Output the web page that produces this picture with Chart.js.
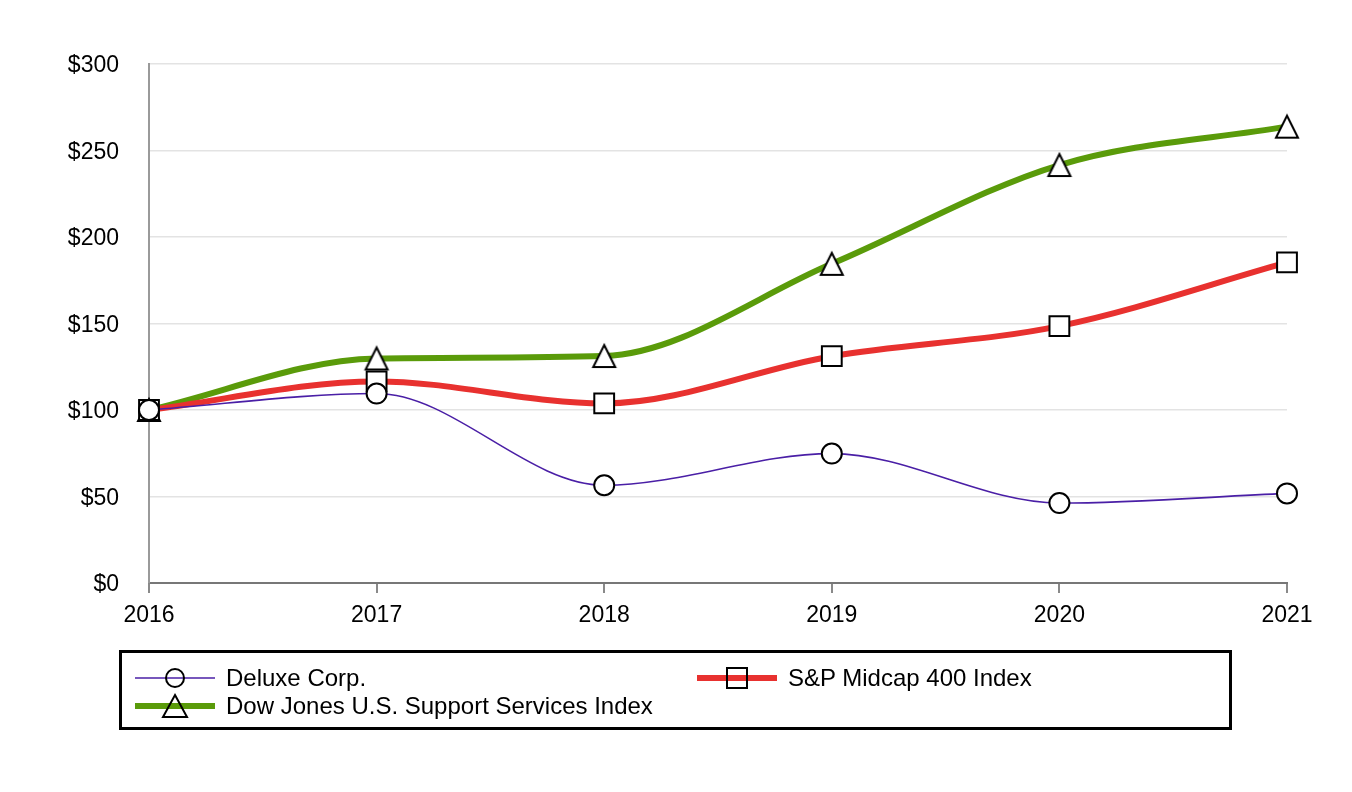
<!DOCTYPE html>
<html>
<head>
<meta charset="utf-8">
<script src="https://cdn.jsdelivr.net/npm/chart.js@4.4.1/dist/chart.umd.min.js"></script>
<style>
  html, body { margin: 0; padding: 0; background: #fff; }
  #wrap { position: relative; width: 1352px; height: 792px; }
  #legend {
    position: absolute; left: 119px; top: 650px; width: 1107px; height: 74px;
    border: 3px solid #000; font-family: "Liberation Sans", Arial, sans-serif; font-size: 24px; color: #000;
  }
  .item { position: absolute; display: flex; align-items: center; height: 28px; }
  .item svg { margin-right: 11px; }
</style>
</head>
<body>
<div id="wrap">
  <canvas id="c" width="1352" height="792"></canvas>
  <div id="legend"></div>
</div>
<script>
const years = ["2016", "2017", "2018", "2019", "2020", "2021"];
const deluxe = [100, 109.5, 56.5, 74.8, 46.2, 51.8];
const spMidcap = [100, 116.5, 103.8, 131.1, 148.5, 185.3];
const djSupport = [100, 129.8, 131.2, 184.5, 241.6, 263.8];
const seriesNames = ["Deluxe Corp.", "S&P Midcap 400 Index", "Dow Jones U.S. Support Services Index"];
const yTicks = [0, 50, 100, 150, 200, 250, 300];

const FONT = "'Liberation Sans', Arial, sans-serif";

// custom centered triangle marker
const tri = document.createElement('canvas');
tri.width = 28; tri.height = 28;
(function () {
  const g = tri.getContext('2d');
  g.beginPath();
  g.moveTo(14, 3); g.lineTo(25, 25); g.lineTo(3, 25); g.closePath();
  g.fillStyle = '#fff'; g.fill();
  g.lineWidth = 2; g.strokeStyle = '#000'; g.lineJoin = 'miter'; g.stroke();
})();

const ds = [
  { label: seriesNames[0], data: deluxe, borderColor: '#4a1fa6', borderWidth: 1.6, pointStyle: 'circle', pointRadius: 10, order: 0 },
  { label: seriesNames[1], data: spMidcap, borderColor: '#e8312f', borderWidth: 6, pointStyle: 'rect', pointRadius: 14, order: 1 },
  { label: seriesNames[2], data: djSupport, borderColor: '#5a9b0a', borderWidth: 6, pointStyle: tri, pointRadius: 13, order: 2 }
].map(d => Object.assign(d, {
  pointBackgroundColor: '#fff', pointBorderColor: '#000', pointBorderWidth: 2,
  pointHoverRadius: d.pointRadius, tension: 0.4, cubicInterpolationMode: 'monotone', fill: false
}));

new Chart(document.getElementById('c'), {
  type: 'line',
  data: { labels: years, datasets: ds },
  options: {
    responsive: false, animation: false, devicePixelRatio: 1,
    layout: { padding: { top: 64, right: 65, left: 0, bottom: 0 } },
    plugins: { legend: { display: false }, tooltip: { enabled: false } },
    scales: {
      x: {
        offset: false,
        grid: { display: true, drawOnChartArea: false, drawTicks: true, tickLength: 10, color: '#8a8a8a', lineWidth: 2 },
        border: { display: true, color: '#777', width: 2 },
        ticks: { color: '#000', font: { family: FONT, size: 23 }, padding: 9, maxRotation: 0 },
        afterFit: s => { s.height = 209; }
      },
      y: {
        min: 0, max: 300,
        afterBuildTicks: s => { s.ticks = yTicks.map(v => ({ value: v })); },
        grid: { color: '#e3e3e3', lineWidth: 1.5, drawTicks: false },
        border: { display: true, color: '#9a9a9a', width: 2 },
        ticks: { color: '#000', font: { family: FONT, size: 23 }, padding: 30, labelOffset: 2, callback: v => '$' + v },
        afterFit: s => { s.width = 149; }
      }
    }
  }
});

// HTML legend
const legend = document.getElementById('legend');
const symbols = [
  { color: '#4a1fa6', w: 1.6, shape: '<circle cx="40" cy="14" r="9" fill="none" stroke="#000" stroke-width="2"/>' },
  { color: '#e8312f', w: 6, shape: '<rect x="30" y="4" width="20" height="20" fill="none" stroke="#000" stroke-width="2"/>' },
  { color: '#5a9b0a', w: 6, shape: '<polygon points="40,3 52,25 28,25" fill="none" stroke="#000" stroke-width="2"/>' }
];
const pos = [ { left: 13, top: 11 }, { left: 575, top: 11 }, { left: 13, top: 39 } ];
seriesNames.forEach((name, i) => {
  const el = document.createElement('div');
  el.className = 'item';
  el.style.left = pos[i].left + 'px';
  el.style.top = pos[i].top + 'px';
  el.innerHTML = '<svg width="80" height="28" viewBox="0 0 80 28"><line x1="0" y1="14" x2="80" y2="14" stroke="' + symbols[i].color + '" stroke-width="' + symbols[i].w + '"/>' + symbols[i].shape + '</svg><span>' + name.replace('&', '&amp;') + '</span>';
  legend.appendChild(el);
});
</script>
</body>
</html>
